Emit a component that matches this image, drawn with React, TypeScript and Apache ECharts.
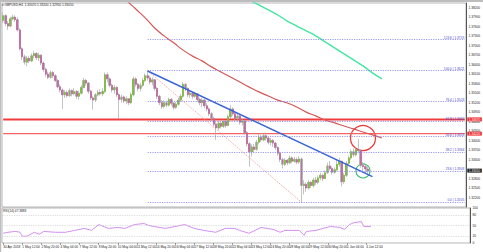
import React, { useEffect, useRef } from "react";
import * as echarts from "echarts";

// ---------- data ----------
const symbolTitle = "GBPUSD,H4  1.33070 1.33200 1.32950 1.33050";
const firstOpen = 1.378;
const closes = [
  1.3795, 1.377, 1.3762, 1.3785, 1.379, 1.3782, 1.375, 1.369, 1.3665, 1.3648,
  1.366, 1.3652, 1.3668, 1.3675, 1.3662, 1.367, 1.3645, 1.3625, 1.361, 1.36,
  1.3615, 1.3605, 1.359, 1.357, 1.356, 1.3545, 1.3552, 1.3542, 1.3558, 1.3548,
  1.3555, 1.354, 1.355, 1.3568, 1.359, 1.3582, 1.3556, 1.3535, 1.3528, 1.3545,
  1.3552, 1.3548, 1.3555, 1.3608, 1.3595, 1.3575, 1.356, 1.3568, 1.3545, 1.353,
  1.3538, 1.3525, 1.3532, 1.352, 1.3545, 1.3595, 1.3578, 1.3565, 1.3575, 1.359,
  1.3605, 1.3598, 1.3585, 1.3592, 1.3565, 1.354, 1.352, 1.3508, 1.352, 1.3512,
  1.353, 1.3518, 1.3505, 1.3515, 1.3528, 1.354, 1.3578, 1.3565, 1.3545, 1.355,
  1.354, 1.3548, 1.353, 1.352, 1.3528, 1.351, 1.35, 1.3485, 1.347, 1.3452,
  1.344, 1.3455, 1.3445, 1.346, 1.3448, 1.3475, 1.35, 1.3485, 1.347, 1.3478,
  1.3458, 1.3462, 1.3425, 1.339, 1.3365, 1.338, 1.3372, 1.3395, 1.341, 1.3402,
  1.3415, 1.3408, 1.3395, 1.34, 1.3392, 1.3378, 1.336, 1.334, 1.3325, 1.3338,
  1.333, 1.3345, 1.3335, 1.334, 1.3332, 1.3342, 1.3258, 1.3262, 1.325, 1.3268,
  1.3258, 1.3275, 1.3268, 1.3282, 1.329, 1.328, 1.3298, 1.332, 1.3312, 1.33,
  1.3308, 1.3325, 1.3335, 1.327, 1.329, 1.3328, 1.3345, 1.3365, 1.3355, 1.3372,
  1.3368, 1.3322, 1.3318, 1.331, 1.3305,
];
const highs = [
  1.3805, 1.38, 1.3778, 1.3792, 1.3798, 1.3796, 1.379, 1.3755, 1.3695, 1.3672,
  1.3668, 1.3668, 1.3676, 1.3683, 1.368, 1.3678, 1.3672, 1.365, 1.363, 1.3618,
  1.3622, 1.362, 1.361, 1.3595, 1.3578, 1.3565, 1.356, 1.3558, 1.3565, 1.3562,
  1.3566, 1.356, 1.3558, 1.3575, 1.3598, 1.3595, 1.3585, 1.356, 1.3542, 1.355,
  1.356, 1.3562, 1.3565, 1.3615, 1.3615, 1.36, 1.358, 1.3576, 1.3572, 1.355,
  1.3545, 1.3542, 1.354, 1.3535, 1.3552, 1.3602, 1.36, 1.3582, 1.3582, 1.3598,
  1.3612, 1.3621, 1.3605, 1.36, 1.3595, 1.357, 1.3545, 1.3528, 1.3528, 1.3526,
  1.3536, 1.3535, 1.3522, 1.3522, 1.3535, 1.3548, 1.3585, 1.3582, 1.3568, 1.3558,
  1.3556, 1.3555, 1.355, 1.3535, 1.3535, 1.3532, 1.3518, 1.3505, 1.349, 1.3475,
  1.3458, 1.3462, 1.346, 1.3466, 1.3465, 1.3482, 1.3512, 1.3505, 1.349, 1.3485,
  1.3482, 1.347, 1.3465, 1.343, 1.3395, 1.3388, 1.339, 1.3402, 1.342, 1.3418,
  1.3422, 1.3425, 1.3412, 1.3408, 1.3405, 1.3396, 1.3382, 1.3365, 1.3345, 1.3345,
  1.3342, 1.3352, 1.335, 1.3348, 1.3346, 1.335, 1.3346, 1.3275, 1.3268, 1.3275,
  1.3272, 1.3282, 1.3285, 1.329, 1.3298, 1.3295, 1.3305, 1.333, 1.3335, 1.3318,
  1.3315, 1.334, 1.3345, 1.3335, 1.3298, 1.3335, 1.3352, 1.3372, 1.3375, 1.338,
  1.3405, 1.3372, 1.3332, 1.3325, 1.332,
];
const lows = [
  1.3772, 1.3762, 1.375, 1.3758, 1.378, 1.3775, 1.3745, 1.3685, 1.3655, 1.364,
  1.3635, 1.3645, 1.3648, 1.366, 1.3655, 1.3652, 1.3638, 1.3618, 1.3602, 1.3594,
  1.3596, 1.3598, 1.3585, 1.3565, 1.3552, 1.35, 1.3535, 1.3536, 1.3538, 1.354,
  1.3543, 1.3532, 1.353, 1.3545, 1.3565, 1.3574, 1.3548, 1.3528, 1.3498, 1.3522,
  1.354, 1.3542, 1.354, 1.355, 1.3585, 1.3568, 1.3552, 1.3548, 1.3538, 1.3468,
  1.352, 1.3518, 1.3515, 1.3512, 1.3515, 1.354, 1.357, 1.3556, 1.3555, 1.357,
  1.3585, 1.359, 1.3578, 1.3575, 1.3558, 1.3532, 1.3512, 1.35, 1.3502, 1.3505,
  1.3508, 1.351, 1.3498, 1.35, 1.351, 1.3522, 1.3535, 1.3556, 1.3538, 1.3535,
  1.3532, 1.3535, 1.3522, 1.3512, 1.3505, 1.3502, 1.3492, 1.3478, 1.3462, 1.3445,
  1.3402, 1.3432, 1.3438, 1.344, 1.344, 1.3445, 1.347, 1.3478, 1.3462, 1.346,
  1.345, 1.3448, 1.3418, 1.3382, 1.3318, 1.335, 1.3362, 1.3368, 1.3388, 1.3395,
  1.3398, 1.34, 1.3388, 1.3385, 1.338, 1.337, 1.3352, 1.3332, 1.3312, 1.332,
  1.3322, 1.3325, 1.3328, 1.333, 1.3325, 1.3326, 1.3205, 1.323, 1.3238, 1.3245,
  1.325, 1.3252, 1.326, 1.3262, 1.3275, 1.3272, 1.3278, 1.3295, 1.3305, 1.3292,
  1.3295, 1.3302, 1.3318, 1.3255, 1.3262, 1.3285, 1.3322, 1.334, 1.3348, 1.335,
  1.336, 1.3315, 1.33, 1.3298, 1.3295,
];
const slotCount = 196;
const labelEvery = 8;
const timeLabels = [
  "30 Apr 2018", "1 May 12:00", "2 May 20:00", "4 May 04:00", "7 May 12:00",
  "8 May 20:00", "10 May 04:00", "11 May 12:00", "14 May 20:00", "16 May 04:00",
  "17 May 12:00", "18 May 20:00", "22 May 04:00", "23 May 12:00", "24 May 20:00",
  "28 May 04:00", "29 May 12:00", "30 May 20:00", "1 Jun 04:00", "4 Jun 12:00",
];
const priceMin = 1.319;
const priceMax = 1.3835;
const priceStep = 0.0005;
const priceLabelEvery = 6;

// moving averages [barIndex, price]
const maRed = [
  [48, 1.3876], [52, 1.3844], [56, 1.3816], [60, 1.3788], [64, 1.3756], [68, 1.3731],
  [72, 1.3709], [76, 1.3686], [80, 1.3667], [84, 1.3652], [88, 1.3633], [92, 1.3617],
  [96, 1.3601], [100, 1.3585], [104, 1.3569], [108, 1.3554], [112, 1.3541], [116, 1.3528],
  [120, 1.3519], [124, 1.3506], [128, 1.349], [132, 1.3478], [136, 1.3465], [140, 1.3456],
  [144, 1.3446], [148, 1.3437], [152, 1.3427], [156, 1.3418], [160, 1.3408],
];
const maGreen = [
  [100, 1.3863], [104, 1.3844], [108, 1.3829], [112, 1.3813], [116, 1.3797], [120, 1.3778],
  [124, 1.3762], [128, 1.3747], [132, 1.3731], [136, 1.3712], [140, 1.3693], [144, 1.3674],
  [148, 1.3655], [152, 1.3636], [156, 1.3614], [160, 1.3595],
];
const trendLine = [[61, 1.362], [156, 1.3286]];
const fibStartBar = 61;
const fibEndBar = 195;
const fibLevels = ["0.0", "23.6", "38.2", "50.0", "61.8", "76.4", "100.0", "123.6"];
const fibPrices = [1.3205, 1.3303, 1.3364, 1.3413, 1.3462, 1.3523, 1.3621, 1.3719];
const fibDiagonal = [[61, 1.3621], [126, 1.3205]];
const resistancePrices = [1.3467, 1.3422];
const rsiPoints = [
  [0, 27.8], [2, 30.6], [5, 33], [7, 31], [8, 19.4], [10, 19.4], [13, 30.6], [15, 25],
  [17, 33], [22, 30.6], [26, 30.6], [30, 36], [34, 41.7], [37, 36], [40, 52.8], [44, 41.7],
  [48, 44.4], [51, 41.7], [55, 52.8], [59, 55.6], [61, 50], [63, 47.2], [68, 41.7], [72, 47.2],
  [76, 52.8], [80, 41.7], [84, 36], [89, 30.6], [93, 41.7], [97, 41.7], [99, 36], [103, 27.8],
  [108, 44.4], [113, 38.9], [116, 30.6], [118, 36], [121, 36], [124, 36], [126, 22.2], [127, 33],
  [131, 36], [134, 41.7], [137, 47.2], [141, 44.4], [143, 38.9], [145, 52.8], [147, 58.3],
  [150, 61.1], [151, 47.2], [154, 47.2],
];
const rsiTitle = "RSI(14) 47.3883";
const rsiLevels = [20, 50, 80];
const rsiAxisValues = [0, 20, 50, 80, 100];
const redCircleAt = [152, 1.3408];
const greenCircleAt = [152, 1.3304];

// ---------- chart ----------
const FONT = "'Liberation Sans', Arial, 'DejaVu Sans', sans-serif";
const BULL = "#6fbf1f";
const BEAR = "#c4579c";
const WICK = "#ababab";

export default function App() {
  const ref = useRef<HTMLDivElement>(null);

  useEffect(() => {
    if (!ref.current) return;
    const chart = echarts.init(ref.current, undefined, { renderer: "svg" });
    const cats = Array.from({ length: slotCount }, (_, i) => "b" + i);
    const candles = closes.map((c, i) => {
      const o = i === 0 ? firstOpen : closes[i - 1];
      return [o, c, Math.min(lows[i], o, c), Math.max(highs[i], o, c)];
    });
    const bodies = candles.map(([o, c]) => [o, c, Math.min(o, c), Math.max(o, c)]);
    const lastClose = closes[closes.length - 1];
    const showTime = (idx: number) => idx % labelEvery === 0 && idx / labelEvery < timeLabels.length;

    const levelLine = (price: number, color: string, width: number, boxColor: string) => ({
      type: "line", xAxisIndex: 0, yAxisIndex: 0, silent: true, showSymbol: false, z: 1,
      color: color,
      data: [[0, price], [slotCount - 1, price]],
      lineStyle: { color, width, opacity: width > 0 ? 1 : 0 },
      endLabel: {
        show: true, distance: 2.5, fontSize: 3.2, color: "#ffffff", backgroundColor: boxColor,
        padding: [0.5, 1.5], fontFamily: FONT, formatter: () => price.toFixed(5),
      },
    });

    const baseGraphic = [
      { type: "rect", silent: true, shape: { x: 0, y: 0, width: 483, height: 2 }, style: { fill: "#bdbdbd" } },
      { type: "rect", silent: true, shape: { x: 0, y: 0, width: 1.2, height: 252 }, style: { fill: "#bdbdbd" } },
      { type: "text", silent: true, x: 2, y: 3, style: { text: "▾ " + symbolTitle, fontSize: 3.2, fill: "#222", fontFamily: FONT } },
      { type: "text", silent: true, x: 3, y: 209.5, style: { text: rsiTitle, fontSize: 3.2, fill: "#222", fontFamily: FONT } },
    ];

    chart.setOption({
      animation: false,
      backgroundColor: "#ffffff",
      textStyle: { fontFamily: FONT },
      grid: [
        { left: 2, right: 13, top: 3, height: 204, show: true, borderColor: "#9a9a9a", borderWidth: 0.7 },
        { left: 2, right: 13, top: 208, height: 35, show: true, borderColor: "#9a9a9a", borderWidth: 0.7 },
      ],
      xAxis: [
        {
          type: "category", gridIndex: 0, data: cats, boundaryGap: true,
          axisLine: { show: false }, axisTick: { show: false }, axisLabel: { show: false }, splitLine: { show: false },
        },
        {
          type: "category", gridIndex: 1, data: cats, boundaryGap: true,
          axisLine: { show: false },
          axisTick: { show: true, alignWithLabel: true, interval: showTime, length: 2, lineStyle: { color: "#666", width: 0.6 } },
          axisLabel: {
            show: true, interval: showTime, fontSize: 3.2, color: "#222", margin: 2.5, align: "left", fontFamily: FONT,
            formatter: (_v: string, idx: number) => timeLabels[idx / labelEvery] ?? "",
          },
          splitLine: { show: false },
        },
      ],
      yAxis: [
        {
          type: "value", gridIndex: 0, position: "right", min: priceMin, max: priceMax, interval: priceStep,
          axisLine: { show: true, lineStyle: { color: "#333", width: 0.8 } },
          axisTick: { show: false }, splitLine: { show: false },
          axisLabel: {
            fontSize: 3.2, color: "#222", margin: 2.5, fontFamily: FONT,
            formatter: (v: number) => {
              const k = Math.round((v - priceMin) / priceStep);
              if (k <= 0 || k % priceLabelEvery !== 0) return "";
              if (Math.abs(v - lastClose) < 0.0012) return "";
              return v.toFixed(5);
            },
          },
        },
        {
          type: "value", gridIndex: 1, position: "right", min: 0, max: 100, interval: 10,
          axisLine: { show: true, lineStyle: { color: "#333", width: 0.8 } },
          axisTick: { show: false }, splitLine: { show: false },
          axisLabel: {
            fontSize: 3.2, color: "#222", margin: 2.5, fontFamily: FONT,
            formatter: (v: number) => (rsiAxisValues.includes(v) ? String(v) : ""),
          },
        },
      ],
      series: [
        {
          type: "candlestick", name: "wicks", xAxisIndex: 0, yAxisIndex: 0, data: candles, barWidth: 2,
          itemStyle: { color: WICK, color0: WICK, borderColor: WICK, borderColor0: WICK, borderWidth: 0.7 },
          silent: true,
        },
        {
          type: "candlestick", name: "bodies", xAxisIndex: 0, yAxisIndex: 0, data: bodies, barWidth: 1.4,
          itemStyle: { color: BULL, color0: BEAR, borderColor: BULL, borderColor0: BEAR, borderWidth: 0.4 },
          silent: true,
        },
        {
          type: "line", name: "fib", xAxisIndex: 0, yAxisIndex: 0, data: fibDiagonal, showSymbol: false, silent: true,
          lineStyle: { color: "#f08a8a", width: 0.8, type: [1.2, 1.2] },
          markLine: {
            silent: true, symbol: ["none", "none"], precision: 5,
            lineStyle: { color: "#8383f0", width: 0.8, type: [1.2, 1.2] },
            label: {
              show: true, position: "insideEndTop", distance: 0.6, fontSize: 3.2, color: "#4646d0", fontFamily: FONT,
              formatter: "{b}",
            },
            data: fibPrices.map((p, i) => [
              { name: `${fibLevels[i]} | ${p.toFixed(4)}`, coord: [fibStartBar, p] },
              { coord: [fibEndBar, p] },
            ]),
          },
        },
        levelLine(resistancePrices[0], "#f23c3c", 2, "#f03030"),
        levelLine(resistancePrices[1], "#f46464", 1.2, "#f03030"),
        levelLine(lastClose, "#1e1e1e", 0, "#1e1e1e"),
        {
          type: "line", name: "ma100", xAxisIndex: 0, yAxisIndex: 0, data: maRed, smooth: true, showSymbol: false, silent: true,
          lineStyle: { color: "#d65656", width: 1.2 },
        },
        {
          type: "line", name: "ma200", xAxisIndex: 0, yAxisIndex: 0, data: maGreen, smooth: true, showSymbol: false, silent: true,
          lineStyle: { color: "#42e6a2", width: 1.4 },
        },
        {
          type: "line", name: "trend", xAxisIndex: 0, yAxisIndex: 0, data: trendLine, showSymbol: false, silent: true,
          lineStyle: { color: "#3a64d8", width: 1.4 },
        },
        {
          type: "line", name: "rsi", xAxisIndex: 1, yAxisIndex: 1, data: rsiPoints, showSymbol: false, silent: true,
          lineStyle: { color: "#cf82ef", width: 0.9 },
          markLine: {
            silent: true, symbol: ["none", "none"], label: { show: false },
            lineStyle: { color: "#c4c4c4", width: 0.6, type: [1.2, 1.2] },
            data: rsiLevels.map((v) => ({ yAxis: v })),
          },
        },
      ],
      graphic: baseGraphic,
    });

    const red = chart.convertToPixel({ xAxisIndex: 0, yAxisIndex: 0 }, redCircleAt) as number[];
    const green = chart.convertToPixel({ xAxisIndex: 0, yAxisIndex: 0 }, greenCircleAt) as number[];
    chart.setOption({
      graphic: [
        ...baseGraphic,
        { type: "circle", silent: true, shape: { cx: red[0], cy: red[1], r: 12.5 }, style: { fill: "none", stroke: "#ee3434", lineWidth: 1.2 } },
        { type: "circle", silent: true, shape: { cx: green[0], cy: green[1], r: 7 }, style: { fill: "none", stroke: "#2fb866", lineWidth: 1.1 } },
      ],
    }, { replaceMerge: ["graphic"] });

    return () => chart.dispose();
  }, []);

  return <div ref={ref} style={{ position: "absolute", left: 0, top: 0, width: 483, height: 252 }} />;
}
